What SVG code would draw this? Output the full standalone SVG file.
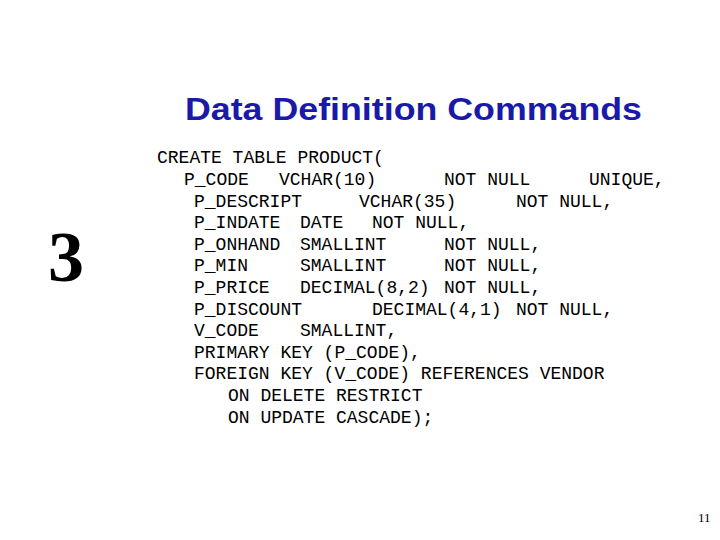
<svg xmlns="http://www.w3.org/2000/svg" width="720" height="540" viewBox="0 0 720 540">
<style>
.c{font-family:"Liberation Mono",monospace;font-size:18px;fill:#000}
</style>
<rect width="720" height="540" fill="#fff"/>
<g id="title"><text x="185" y="120" font-family="Liberation Sans,sans-serif" font-weight="bold" font-size="32" fill="#1a1aa8" textLength="457" lengthAdjust="spacingAndGlyphs">Data Definition Commands</text></g>
<g id="num"><text x="48" y="281" font-family="Liberation Serif,serif" font-weight="bold" font-size="72">3</text></g>
<g id="code" class="c">
<text class="c" x="157" y="163">CREATE TABLE PRODUCT(</text>
<text class="c" y="185"><tspan x="184">P_CODE</tspan><tspan x="279">VCHAR(10)</tspan><tspan x="444">NOT NULL</tspan><tspan x="589">UNIQUE,</tspan></text>
<text class="c" y="207"><tspan x="194">P_DESCRIPT</tspan><tspan x="359">VCHAR(35)</tspan><tspan x="516">NOT NULL,</tspan></text>
<text class="c" y="228"><tspan x="194">P_INDATE</tspan><tspan x="300">DATE</tspan><tspan x="372">NOT NULL,</tspan></text>
<text class="c" y="250"><tspan x="194">P_ONHAND</tspan><tspan x="300">SMALLINT</tspan><tspan x="444">NOT NULL,</tspan></text>
<text class="c" y="271"><tspan x="194">P_MIN</tspan><tspan x="300">SMALLINT</tspan><tspan x="444">NOT NULL,</tspan></text>
<text class="c" y="293"><tspan x="194">P_PRICE</tspan><tspan x="300">DECIMAL(8,2)</tspan><tspan x="444">NOT NULL,</tspan></text>
<text class="c" y="315"><tspan x="194">P_DISCOUNT</tspan><tspan x="372">DECIMAL(4,1)</tspan><tspan x="516">NOT NULL,</tspan></text>
<text class="c" y="336"><tspan x="194">V_CODE</tspan><tspan x="300">SMALLINT,</tspan></text>
<text class="c" x="194" y="358">PRIMARY KEY (P_CODE),</text>
<text class="c" x="194" y="379">FOREIGN KEY (V_CODE) REFERENCES VENDOR</text>
<text class="c" x="228" y="401">ON DELETE RESTRICT</text>
<text class="c" x="228" y="423">ON UPDATE CASCADE);</text>
</g>
<g id="page"><text x="698" y="522" font-family="Liberation Serif,serif" font-size="13">11</text></g>
</svg>
